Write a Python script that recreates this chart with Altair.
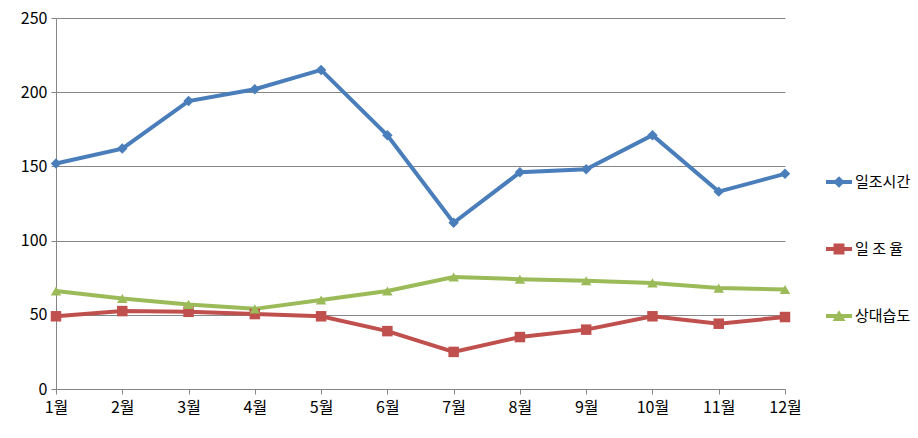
import altair as alt
import pandas as pd

months = ["1월", "2월", "3월", "4월", "5월", "6월", "7월", "8월", "9월", "10월", "11월", "12월"]
series_names = ["일조시간", "일 조 율", "상대습도"]
sunshine_hours = [152, 162, 194, 202, 215, 171, 112, 146, 148, 171, 133, 145]
sunshine_rate = [49, 52.5, 52, 50.5, 49, 39, 25, 35, 40, 49, 44, 48.5]
humidity = [66, 61, 57, 54, 60, 66, 75.5, 74, 73, 71.5, 68, 67]

rows = []
for name, vals in zip(series_names, [sunshine_hours, sunshine_rate, humidity]):
    for m, v in zip(months, vals):
        rows.append({"month": m, "value": v, "series": name})
df = pd.DataFrame(rows)

colors = ["#4A7EBB", "#C0504D", "#9BBB59"]
shapes = ["diamond", "square", "triangle-up"]
# legend symbols: short line with the marker on it (degenerate first subpath fixes the bounds)
legend_shapes = [
    "M0,-1L0,1Z M-1,-0.15L1,-0.15L1,0.15L-1,0.15Z M0,-0.45L0.45,0L0,0.45L-0.45,0Z",
    "M0,-1L0,1Z M-1,-0.15L1,-0.15L1,0.15L-1,0.15Z M-0.42,-0.42L0.42,-0.42L0.42,0.42L-0.42,0.42Z",
    "M0,-1L0,1Z M-1,-0.15L1,-0.15L1,0.15L-1,0.15Z M0,-0.45L0.5,0.38L-0.5,0.38Z",
]
FONT = "Noto Sans CJK KR"

x = alt.X("month:N", sort=months, scale=alt.Scale(type="point", padding=0),
          axis=alt.Axis(title=None, labelAngle=0, labelFontSize=16, labelFont=FONT,
                        labelColor="#000", labelPadding=5, domainColor="#868686",
                        tickColor="#868686", tickSize=5, grid=False))
y = alt.Y("value:Q", scale=alt.Scale(domain=[0, 250]),
          axis=alt.Axis(title=None, values=[0, 50, 100, 150, 200, 250], labelFontSize=16,
                        labelFont=FONT, labelColor="#000", labelPadding=4,
                        domainColor="#868686", tickColor="#868686", tickSize=5,
                        gridColor="#868686", gridWidth=1))
color_nolegend = alt.Color("series:N", scale=alt.Scale(domain=series_names, range=colors), legend=None)
shape_nolegend = alt.Shape("series:N", scale=alt.Scale(domain=series_names, range=shapes), legend=None)

legend = alt.Legend(title=None, orient="none", legendX=770, legendY=151,
                    labelFont=FONT, labelFontSize=15, labelColor="#000",
                    rowPadding=41, labelOffset=3, symbolSize=676, symbolStrokeWidth=0)
color_legend = alt.Color("series:N", scale=alt.Scale(domain=series_names, range=colors), legend=legend)
shape_legend = alt.Shape("series:N", scale=alt.Scale(domain=series_names, range=legend_shapes), legend=legend)

base = alt.Chart(df)
lines = base.mark_line(strokeWidth=4).encode(x=x, y=y, color=color_nolegend, detail="series:N")
pts = base.mark_point(filled=True, size=110, opacity=1).encode(x=x, y=y, color=color_nolegend, shape=shape_nolegend)
leg = base.transform_filter("false").mark_point(filled=True, size=676, opacity=1).encode(
    x=x, y=y, color=color_legend, shape=shape_legend)

chart = alt.layer(lines, pts, leg).resolve_scale(color="independent", shape="independent").properties(
    width=729, height=371,
    autosize=alt.AutoSizeParams(type="none"),
    padding={"left": 56, "top": 18, "right": 133, "bottom": 49},
    background="white",
).configure_view(stroke=None)

chart.save("out.html", embed_options={"renderer": "svg", "actions": False})
